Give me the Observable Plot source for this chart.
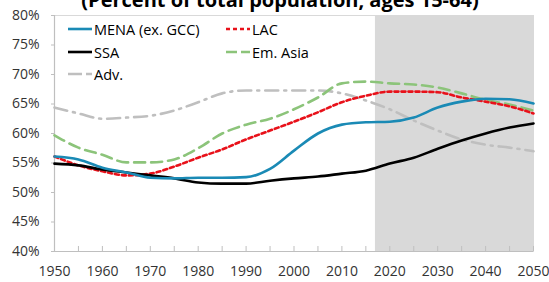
<!DOCTYPE html>
<html>
<head>
<meta charset="utf-8">
<script src="https://cdn.jsdelivr.net/npm/d3@7"></script>
<script src="https://cdn.jsdelivr.net/npm/@observablehq/plot@0.6"></script>
<style>
  html, body { margin: 0; padding: 0; background: #fff; overflow: hidden; }
  #wrap { position: relative; width: 549px; height: 282px; overflow: hidden; font-family: "Open Sans", sans-serif; }
  #title { position: absolute; top: -10px; left: 0; width: 560px; text-align: center; font-weight: bold; font-size: 20px; line-height: 20px; color: #000; white-space: nowrap; }
  #legend { position: absolute; left: 66px; top: 18px; font-size: 14.5px; color: #000; }
  .item { position: absolute; display: flex; align-items: center; white-space: nowrap; height: 22px; }
  .item svg { margin-right: 2px; }
</style>
</head>
<body>
<div id="wrap">
  <div id="chart"></div>
  <div id="title">(Percent of total population, ages 15-64)</div>
  <div id="legend"></div>
</div>
<script>
const years = [1950,1955,1960,1965,1970,1975,1980,1985,1990,1995,2000,2005,2010,2015,2020,2025,2030,2035,2040,2045,2050];
const mena   = [56.1,55.6,54.2,53.4,52.5,52.4,52.5,52.5,52.6,54.0,57.1,60.0,61.5,61.9,62.0,62.7,64.4,65.4,65.9,65.8,65.1];
const lac    = [56.1,54.6,53.6,52.9,53.2,54.4,55.9,57.3,59.0,60.5,62.0,63.6,65.3,66.4,67.1,67.1,67.0,66.1,65.4,64.6,63.4];
const ssa    = [54.9,54.6,53.9,53.4,52.9,52.4,51.7,51.5,51.5,52.0,52.4,52.7,53.2,53.7,54.9,55.9,57.4,58.8,60.0,61.0,61.7];
const emAsia = [59.7,57.6,56.4,55.1,55.1,55.6,57.5,60.0,61.5,62.5,64.1,66.1,68.5,68.8,68.5,68.3,67.8,66.8,65.7,64.9,63.9];
const adv    = [64.4,63.4,62.5,62.7,63.0,63.9,65.3,66.8,67.3,67.3,67.3,67.3,66.8,65.6,64.1,62.2,60.5,59.0,58.1,57.6,57.0];
const seriesNames = ["MENA (ex. GCC)", "LAC", "SSA", "Em. Asia", "Adv."];
const projection = [{x1: 2017, x2: 2050}];
const xLabels = [1950,1960,1970,1980,1990,2000,2010,2020,2030,2040,2050];
const yTicks = [40,45,50,55,60,65,70,75,80];

const styles = {
  "MENA (ex. GCC)": {stroke: "#1a8ab5", dash: null, legendDash: null},
  "LAC": {stroke: "#e8111a", dash: "4,3", legendDash: "4,3"},
  "SSA": {stroke: "#000000", dash: null, legendDash: null},
  "Em. Asia": {stroke: "#8cc47a", dash: "11,6", legendDash: "11,4"},
  "Adv.": {stroke: "#bfbfbf", dash: "13,6,2,6", legendDash: "14,4"}
};
const valuesBy = {"MENA (ex. GCC)": mena, "LAC": lac, "SSA": ssa, "Em. Asia": emAsia, "Adv.": adv};
const drawOrder = ["Adv.", "Em. Asia", "LAC", "SSA", "MENA (ex. GCC)"];

const lineMarks = drawOrder.map(name => {
  const data = years.map((y, i) => ({year: y, value: valuesBy[name][i]}));
  return Plot.line(data, {x: "year", y: "value", stroke: styles[name].stroke, strokeWidth: 2.6,
    strokeDasharray: styles[name].dash || undefined, curve: "monotone-x"});
});

const chart = Plot.plot({
  width: 549, height: 282,
  marginLeft: 54, marginRight: 16, marginTop: 15, marginBottom: 31,
  style: {fontFamily: "'Open Sans', sans-serif", fontSize: "14px", color: "#333"},
  x: {domain: [1950, 2050], label: null},
  y: {domain: [40, 80], label: null},
  marks: [
    Plot.rect(projection, {x1: "x1", x2: "x2", y1: 40, y2: 80, fill: "#d9d9d9"}),
    Plot.frame({stroke: "#d9d9d9", strokeWidth: 1}),
    Plot.ruleX(years, {y1: 40, y2: 40.85, stroke: "#bfbfbf"}),
    Plot.ruleY([40], {stroke: "#bfbfbf", strokeWidth: 1.2}),
    Plot.ruleX([1950], {stroke: "#bfbfbf", strokeWidth: 1.2}),
    Plot.axisX(xLabels, {tickSize: 0, tickPadding: 15, tickFormat: d => String(d), fontSize: 14, fill: "#333", label: null}),
    Plot.axisY(yTicks, {tickSize: 3, stroke: "#bfbfbf", tickPadding: 12, tickFormat: d => d + "%", fontSize: 14, fill: "#333", label: null}),
    ...lineMarks
  ]
});
document.getElementById("chart").appendChild(chart);

// legend
const legend = document.getElementById("legend");
const positions = {
  "MENA (ex. GCC)": [0, 0], "LAC": [158, 0],
  "SSA": [0, 23], "Em. Asia": [158, 23],
  "Adv.": [0, 45]
};
seriesNames.forEach(name => {
  const it = document.createElement("div");
  it.className = "item";
  it.style.left = positions[name][0] + "px";
  it.style.top = positions[name][1] + "px";
  const s = styles[name];
  const w = 26;
  it.innerHTML = `<svg width="${w}" height="10"><line x1="2" x2="${w}" y1="5" y2="5" stroke="${s.stroke}" stroke-width="2.6" ${s.legendDash ? `stroke-dasharray="${s.legendDash}"` : ""}/></svg><span>${name}</span>`;
  legend.appendChild(it);
});
</script>
</body>
</html>
